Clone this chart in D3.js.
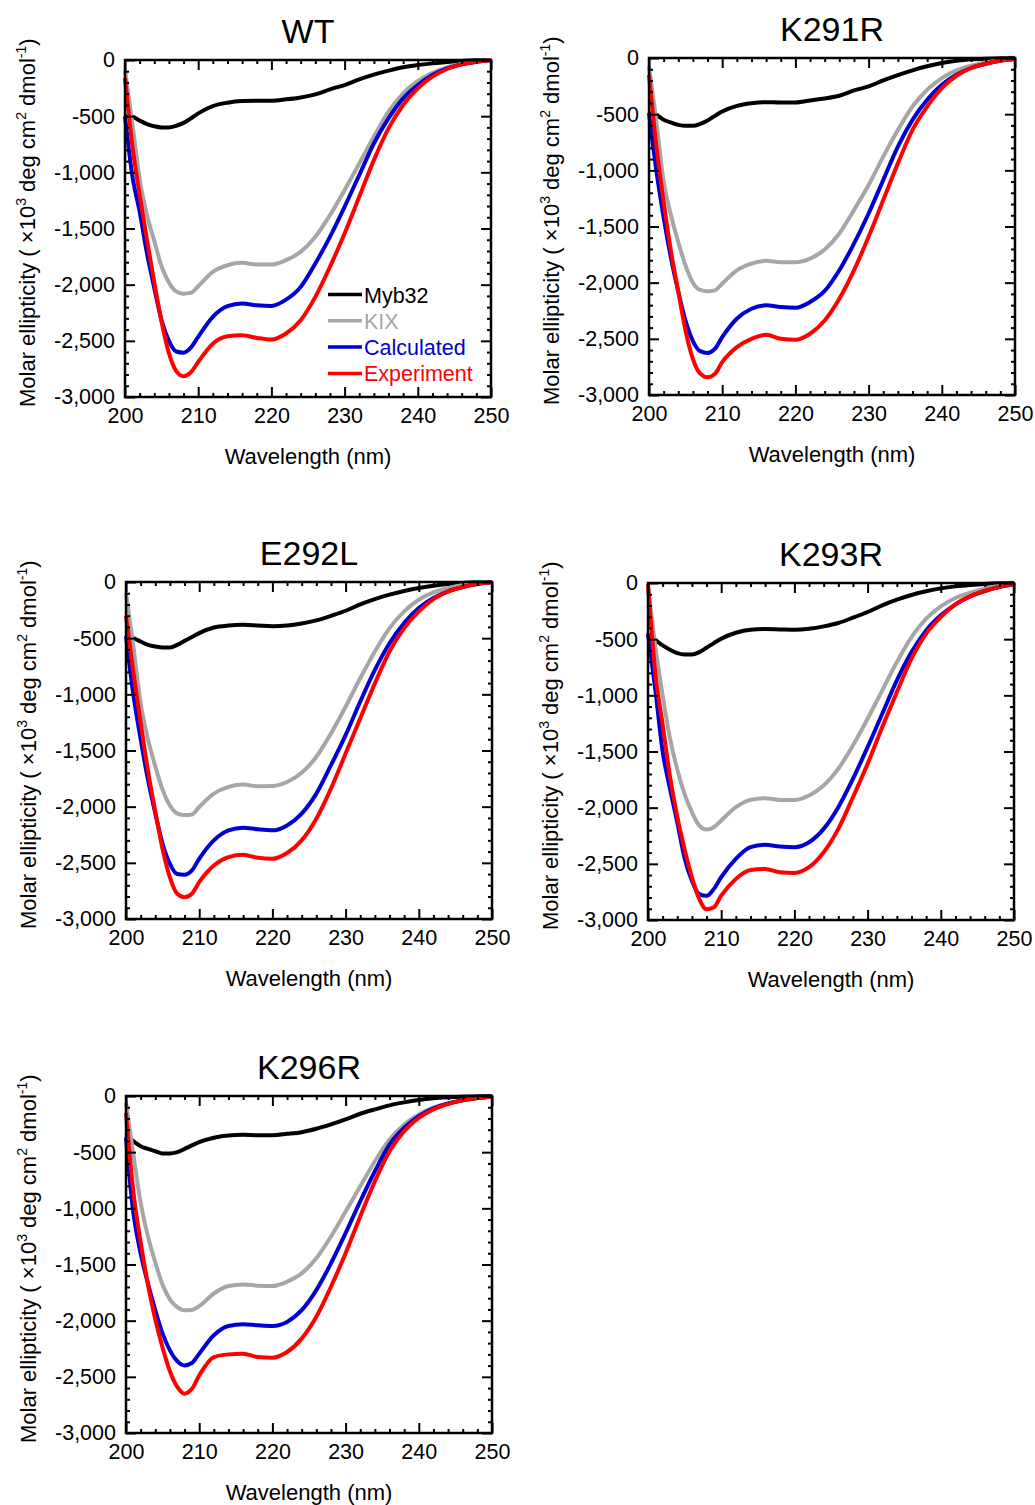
<!DOCTYPE html>
<html>
<head>
<meta charset="utf-8">
<script src="https://cdn.jsdelivr.net/npm/d3@7"></script>
<style>
  body { margin: 0; background: #fff; }
  text { font-family: 'Liberation Sans', Arial, sans-serif; }
</style>
</head>
<body>
<script>
// wavelengths (nm) shared by every spectrum
const wavelengths = [200, 201, 202, 203, 204, 205, 206, 207, 208, 209, 210,
  212, 214, 216, 218, 220, 222, 224, 226, 228, 230,
  232, 234, 236, 238, 240, 242, 244, 246, 248, 250];

const seriesNames = ["Myb32", "KIX", "Calculated", "Experiment"];
const seriesColors = ["#000000", "#a6a6a6", "#0000d2", "#ff0000"];
const panelNames = ["WT", "K291R", "E292L", "K293R", "K296R"];

const xTicks = [200, 210, 220, 230, 240, 250];
const yTicks = [0, -500, -1000, -1500, -2000, -2500, -3000];

// molar ellipticity, x10^3 deg cm2 dmol-1
const wtMyb32 = [-500, -505, -540, -570, -590, -600, -600, -585, -560, -520, -475,
  -410, -380, -365, -362, -362, -350, -333, -306, -261, -223,
  -172, -130, -95, -65, -45, -30, -18, -9, -3, 0];
const wtKix = [-90, -560, -1060, -1380, -1610, -1840, -1980, -2060, -2080, -2073, -2014,
  -1886, -1827, -1806, -1821, -1821, -1782, -1708, -1574, -1381, -1158,
  -921, -683, -460, -297, -187, -113, -65, -36, -15, -3];
const wtCalc = [-500, -1030, -1350, -1720, -2030, -2320, -2500, -2595, -2605, -2560, -2465,
  -2287, -2192, -2168, -2183, -2189, -2133, -2020, -1812, -1574, -1307,
  -1025, -743, -520, -342, -223, -134, -74, -39, -15, -3];
const wtExp = [-160, -760, -1200, -1600, -1980, -2330, -2610, -2770, -2815, -2780, -2688,
  -2525, -2459, -2450, -2474, -2489, -2435, -2317, -2109, -1841, -1544,
  -1218, -891, -609, -401, -252, -148, -80, -39, -15, 0];

const k291rMyb32 = [-490, -506, -550, -574, -595, -604, -604, -586, -556, -515, -476,
  -426, -402, -393, -396, -396, -378, -360, -336, -289, -253,
  -199, -152, -110, -74, -45, -24, -12, -6, -3, 0];
const k291rKix = [-74, -560, -1100, -1400, -1640, -1850, -2000, -2065, -2077, -2068, -2009,
  -1890, -1830, -1806, -1818, -1818, -1786, -1705, -1562, -1354, -1131,
  -878, -640, -432, -283, -179, -110, -68, -39, -18, -6];
const k291rCalc = [-490, -1000, -1420, -1780, -2080, -2340, -2520, -2610, -2625, -2589, -2485,
  -2321, -2232, -2202, -2217, -2223, -2172, -2074, -1890, -1652, -1384,
  -1086, -789, -551, -372, -238, -149, -89, -51, -24, -9];
const k291rExp = [-150, -780, -1280, -1720, -2080, -2430, -2680, -2810, -2842, -2812, -2708,
  -2574, -2500, -2464, -2500, -2509, -2455, -2336, -2143, -1890, -1592,
  -1265, -938, -640, -432, -268, -158, -89, -51, -24, -9];

const e292lMyb32 = [-485, -500, -530, -560, -574, -583, -583, -560, -524, -490, -455,
  -405, -387, -381, -387, -393, -387, -369, -342, -301, -256,
  -199, -152, -113, -80, -54, -33, -18, -9, -3, 0];
const e292lKix = [-98, -570, -1080, -1400, -1640, -1850, -1990, -2060, -2075, -2070, -2003,
  -1884, -1824, -1803, -1818, -1815, -1780, -1699, -1556, -1348, -1110,
  -857, -619, -411, -262, -158, -92, -54, -27, -9, -3];
const e292lCalc = [-480, -1000, -1400, -1760, -2060, -2330, -2510, -2600, -2607, -2568, -2464,
  -2300, -2211, -2187, -2202, -2211, -2167, -2062, -1884, -1631, -1363,
  -1065, -783, -545, -366, -232, -143, -83, -45, -18, -3];
const e292lExp = [-300, -800, -1250, -1680, -2040, -2380, -2630, -2776, -2806, -2776, -2672,
  -2524, -2449, -2428, -2455, -2464, -2413, -2300, -2107, -1839, -1527,
  -1214, -902, -619, -411, -262, -152, -86, -45, -18, -3];

const k293rMyb32 = [-496, -511, -555, -594, -624, -636, -636, -615, -576, -535, -496,
  -443, -416, -410, -413, -416, -407, -386, -356, -309, -258,
  -199, -149, -107, -74, -48, -30, -18, -9, -3, 0];
const k293rKix = [-36, -560, -1000, -1380, -1660, -1880, -2040, -2160, -2195, -2174, -2115,
  -1996, -1931, -1916, -1931, -1931, -1892, -1803, -1654, -1446, -1209,
  -956, -704, -481, -318, -208, -134, -86, -50, -24, -9];
const k293rCalc = [-450, -950, -1500, -1830, -2130, -2450, -2650, -2770, -2785, -2723, -2619,
  -2456, -2352, -2331, -2346, -2352, -2308, -2189, -1996, -1743, -1461,
  -1164, -867, -615, -422, -288, -190, -119, -71, -36, -12];
const k293rExp = [-10, -800, -1260, -1720, -2080, -2370, -2620, -2812, -2905, -2887, -2783,
  -2634, -2554, -2545, -2575, -2581, -2530, -2397, -2189, -1907, -1610,
  -1283, -971, -674, -451, -303, -190, -119, -71, -36, -12];

const k296rMyb32 = [-345, -402, -447, -471, -492, -512, -512, -500, -471, -440, -411,
  -372, -351, -346, -349, -349, -337, -322, -292, -253, -209,
  -158, -119, -83, -57, -36, -21, -12, -6, -3, 0];
const k296rKix = [-60, -520, -950, -1250, -1480, -1680, -1810, -1880, -1908, -1905, -1871,
  -1758, -1692, -1677, -1689, -1692, -1653, -1579, -1445, -1251, -1028,
  -804, -581, -387, -253, -164, -104, -66, -39, -18, -6];
const k296rCalc = [-370, -1040, -1400, -1670, -1907, -2115, -2264, -2360, -2398, -2377, -2294,
  -2130, -2047, -2032, -2041, -2047, -2011, -1907, -1728, -1490, -1221,
  -938, -670, -432, -283, -179, -110, -66, -39, -18, -6];
const k296rExp = [-150, -850, -1300, -1680, -1990, -2240, -2450, -2590, -2650, -2607, -2488,
  -2324, -2300, -2294, -2324, -2330, -2279, -2160, -1966, -1698, -1400,
  -1072, -760, -492, -313, -194, -119, -71, -39, -18, -6];

const panelData = [
  [wtMyb32, wtKix, wtCalc, wtExp],
  [k291rMyb32, k291rKix, k291rCalc, k291rExp],
  [e292lMyb32, e292lKix, e292lCalc, e292lExp],
  [k293rMyb32, k293rKix, k293rCalc, k293rExp],
  [k296rMyb32, k296rKix, k296rCalc, k296rExp]
];

// placement of each plot frame on the page
const layout = [
  { left: 125, top: 60 },
  { left: 649, top: 58 },
  { left: 126, top: 582 },
  { left: 648, top: 583 },
  { left: 126, top: 1096 }
];

const svgWidth = 1035, svgHeight = 1505;
const width = 366, height = 337;

const svg = d3.select("body").append("svg")
    .attr("width", svgWidth)
    .attr("height", svgHeight);

const x = d3.scaleLinear().domain([200, 250]).range([0, width]);
const y = d3.scaleLinear().domain([-3000, 0]).range([height, 0]);

const xMinor = d3.range(200, 251, 2).filter(function(d) { return d % 10 !== 0; });
const yMinor = d3.range(-3000, 1, 100).filter(function(d) { return d % 500 !== 0; });

const fmt = function(d) { return d3.format(",")(d).replace("\u2212", "-"); };

const line = d3.line()
    .x(function(d) { return x(d[0]); })
    .y(function(d) { return y(d[1]); })
    .curve(d3.curveMonotoneX);

function styleAxis(sel) {
  sel.select(".domain").remove();
  sel.selectAll(".tick line").attr("stroke", "#000").attr("stroke-width", 2);
  sel.selectAll(".tick text").attr("fill", "#000").attr("font-size", 21.5)
      .attr("font-family", "'Liberation Sans', Arial, sans-serif");
}

panelNames.forEach(function(name, i) {
  const pos = layout[i];
  const g = svg.append("g")
      .attr("transform", "translate(" + pos.left + "," + pos.top + ")");

  // spectra
  panelData[i].forEach(function(vals, s) {
    g.append("path")
        .datum(wavelengths.map(function(w, k) { return [w, vals[k]]; }))
        .attr("fill", "none")
        .attr("stroke", seriesColors[s])
        .attr("stroke-width", 4)
        .attr("stroke-linejoin", "round")
        .attr("d", line);
  });

  // bottom
  g.append("g").attr("transform", "translate(0," + height + ")")
      .call(d3.axisBottom(x).tickValues(xTicks).tickSize(-10).tickPadding(11).tickFormat(d3.format("d")))
      .call(styleAxis);
  g.append("g").attr("transform", "translate(0," + height + ")")
      .call(d3.axisBottom(x).tickValues(xMinor).tickSize(-4).tickFormat(""))
      .call(styleAxis);
  // top
  g.append("g")
      .call(d3.axisTop(x).tickValues(xTicks).tickSize(-10).tickFormat(""))
      .call(styleAxis);
  g.append("g")
      .call(d3.axisTop(x).tickValues(xMinor).tickSize(-4).tickFormat(""))
      .call(styleAxis);
  // left
  g.append("g")
      .call(d3.axisLeft(y).tickValues(yTicks).tickSize(-10).tickPadding(10).tickFormat(fmt))
      .call(styleAxis);
  g.append("g")
      .call(d3.axisLeft(y).tickValues(yMinor).tickSize(-4).tickFormat(""))
      .call(styleAxis);
  // right
  g.append("g").attr("transform", "translate(" + width + ",0)")
      .call(d3.axisRight(y).tickValues(yTicks).tickSize(-10).tickFormat(""))
      .call(styleAxis);
  g.append("g").attr("transform", "translate(" + width + ",0)")
      .call(d3.axisRight(y).tickValues(yMinor).tickSize(-4).tickFormat(""))
      .call(styleAxis);

  g.append("rect")
      .attr("width", width)
      .attr("height", height)
      .attr("fill", "none")
      .attr("stroke", "#000")
      .attr("stroke-width", 2.5);

  // title
  g.append("text")
      .attr("x", width / 2)
      .attr("y", -17)
      .attr("text-anchor", "middle")
      .attr("font-size", 34)
      .text(name);

  // x label
  g.append("text")
      .attr("x", width / 2)
      .attr("y", height + 67)
      .attr("text-anchor", "middle")
      .attr("font-size", 22)
      .text("Wavelength (nm)");

  // y label
  const yl = g.append("text")
      .attr("transform", "translate(-90," + (height + 10) + ") rotate(-90)")
      .attr("text-anchor", "start")
      .attr("font-size", 22)
      .style("white-space", "pre");
  yl.append("tspan").text("Molar ellipticity ( \u00d710");
  yl.append("tspan").attr("font-size", 14).attr("dy", -9).text("3");
  yl.append("tspan").attr("dy", 9).text(" deg cm");
  yl.append("tspan").attr("font-size", 14).attr("dy", -9).text("2");
  yl.append("tspan").attr("dy", 9).text(" dmol");
  yl.append("tspan").attr("font-size", 14).attr("dy", -9).text("-1");
  yl.append("tspan").attr("dy", 9).text(")");

  // legend only on the first panel
  if (i === 0) {
    const lg = g.append("g").attr("transform", "translate(203,234.5)");
    seriesNames.forEach(function(s, k) {
      lg.append("line")
          .attr("x1", 0).attr("x2", 34)
          .attr("y1", k * 26.3).attr("y2", k * 26.3)
          .attr("stroke", seriesColors[k])
          .attr("stroke-width", 3.5);
      lg.append("text")
          .attr("x", 36)
          .attr("y", k * 26.3 + 8)
          .attr("font-size", 21.5)
          .attr("fill", seriesColors[k])
          .text(s);
    });
  }
});
</script>
</body>
</html>
